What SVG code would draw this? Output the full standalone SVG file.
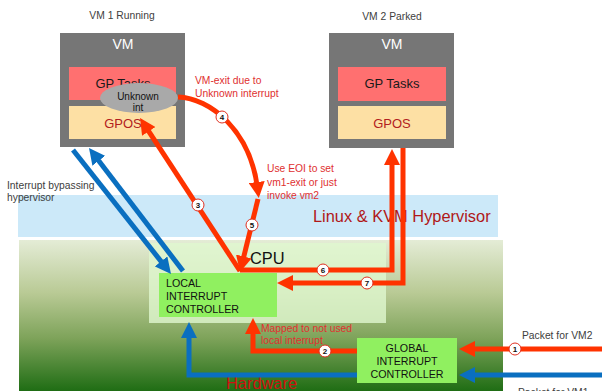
<svg xmlns="http://www.w3.org/2000/svg" width="602" height="391" viewBox="0 0 602 391">
<defs>
<linearGradient id="hw" x1="0" y1="0" x2="0" y2="1">
<stop offset="0" stop-color="#e4ecd6"/>
<stop offset="0.35" stop-color="#b9ca95"/>
<stop offset="0.65" stop-color="#7ea35a"/>
<stop offset="1" stop-color="#1f6d14"/>
</linearGradient>
<marker id="ar" viewBox="0 0 16 16" markerWidth="16" markerHeight="16" refX="6" refY="8" orient="auto" markerUnits="userSpaceOnUse"><path d="M0,0 L16,8 L0,16 z" fill="#ff3300"/></marker>
<marker id="ab" viewBox="0 0 16 16" markerWidth="16" markerHeight="16" refX="6" refY="8" orient="auto" markerUnits="userSpaceOnUse"><path d="M0,0 L16,8 L0,16 z" fill="#0a6fc0"/></marker>
</defs>
<style>
text{font-family:"Liberation Sans",Arial,sans-serif}
.lbl{font-size:10.3px;fill:#404040}
.ann{font-size:10.3px;fill:#e03030}
.vmh{font-size:14px;fill:#ffffff;text-anchor:middle}
.gpt{font-size:13px;fill:#1a1a1a;text-anchor:middle}
.gpo{font-size:13px;fill:#b22020;text-anchor:middle}
.ctl{font-size:10.7px;fill:#111}
.red{fill:none;stroke:#ff3300;stroke-width:5}
.blu{fill:none;stroke:#0a6fc0;stroke-width:5}
.num circle{fill:#fff;stroke:#e03020;stroke-width:1}
.num text{font-size:8px;font-weight:bold;fill:#111;text-anchor:middle}
.big{font-size:16.4px}
</style>
<rect width="602" height="391" fill="#fff"/>
<g id="hypervisor">
<rect x="18" y="195" width="480" height="42" fill="#cce9f9"/>
<text class="big" x="313" y="222" fill="#b01818">Linux &amp; KVM Hypervisor</text>
</g>
<g id="hardware">
<rect x="19" y="240" width="484" height="151" fill="url(#hw)"/>
<text class="big" x="226" y="389" fill="#d01010">Hardware</text>
</g>
<g id="cpu">
<rect x="149" y="243" width="237" height="80" fill="#e0f8d0" opacity="0.8"/>
<text class="big" x="250" y="264" fill="#111">CPU</text>
</g>
<g id="lic">
<rect x="159" y="273" width="118" height="44" fill="#90f060"/>
<text class="ctl" x="166" y="287">LOCAL</text>
<text class="ctl" x="166" y="300">INTERRUPT</text>
<text class="ctl" x="166" y="313">CONTROLLER</text>
</g>
<g id="gic">
<rect x="357" y="338" width="100" height="45" fill="#90f060"/>
<text class="ctl" x="407" y="352" text-anchor="middle">GLOBAL</text>
<text class="ctl" x="407" y="365" text-anchor="middle">INTERRUPT</text>
<text class="ctl" x="407" y="378" text-anchor="middle">CONTROLLER</text>
</g>
<g id="vm1">
<text class="lbl" x="122" y="19" text-anchor="middle">VM 1 Running</text>
<rect x="60" y="33" width="125" height="114" fill="#767676"/>
<text class="vmh" x="123" y="49">VM</text>
<rect x="69" y="67" width="107" height="33" fill="#ff7070"/>
<text class="gpt" x="123" y="88">GP Tasks</text>
<rect x="69" y="106" width="107" height="33" fill="#fde0a4"/>
<text class="gpo" x="123" y="128">GPOS</text>
</g>
<g id="unknown-int">
<ellipse cx="139" cy="98" rx="39" ry="15" fill="#a9a9a9"/>
<text x="138" y="100" font-size="10" text-anchor="middle" fill="#111">Unknown</text>
<text x="138" y="111" font-size="10" text-anchor="middle" fill="#111">int</text>
</g>
<g id="vm2">
<text class="lbl" x="392" y="20" text-anchor="middle">VM 2 Parked</text>
<rect x="329" y="33" width="125" height="115" fill="#767676"/>
<text class="vmh" x="392" y="49">VM</text>
<rect x="338" y="67" width="108" height="34" fill="#ff7070"/>
<text class="gpt" x="392" y="88">GP Tasks</text>
<rect x="338" y="106" width="108" height="33" fill="#fde0a4"/>
<text class="gpo" x="392" y="128">GPOS</text>
</g>
<g id="labels">
<text class="ann" x="195" y="84">VM-exit due to</text>
<text class="ann" x="195" y="97">Unknown interrupt</text>
<text class="ann" x="267" y="172">Use EOI to set</text>
<text class="ann" x="267" y="186">vm1-exit or just</text>
<text class="ann" x="267" y="199">invoke vm2</text>
<text class="lbl" x="7" y="189" fill="#333">Interrupt bypassing</text>
<text class="lbl" x="7" y="201" fill="#333">hypervisor</text>
<text class="ann" x="261" y="332">Mapped to not used</text>
<text class="ann" x="261" y="344">local interrupt</text>
<text class="lbl" x="522" y="339" font-size="9.7">Packet for VM2</text>
<text class="lbl" x="518" y="396" font-size="9.7">Packet for VM1</text>
</g>
<g id="connectors">
<path class="blu" d="M73,150 L164.8,266.1" marker-end="url(#ab)"/>
<path class="blu" d="M183,271 L95.1,156" marker-end="url(#ab)"/>
<path class="red" d="M240,271 L145.5,126.4" marker-end="url(#ar)"/>
<path class="red" d="M178,97 C210,98 250,130 257.5,188" marker-end="url(#ar)"/>
<path class="red" d="M258,199 L242.4,262.3" marker-end="url(#ar)"/>
<path class="red" d="M240,270 H392 V159" marker-end="url(#ar)"/>
<path class="red" d="M403,148 V283 H287" marker-end="url(#ar)"/>
<path class="red" d="M602,349 H469" marker-end="url(#ar)"/>
<path class="blu" d="M602,375 H469" marker-end="url(#ab)"/>
<path class="red" d="M357,351 H253 V328" marker-end="url(#ar)"/>
<path class="blu" d="M357,375 H189 V332" marker-end="url(#ab)"/>
<g class="num"><circle cx="515" cy="349" r="6"/><text x="515" y="352">1</text></g>
<g class="num"><circle cx="325" cy="351" r="6"/><text x="325" y="354">2</text></g>
<g class="num"><circle cx="198" cy="205" r="6"/><text x="198" y="208">3</text></g>
<g class="num"><circle cx="222" cy="117" r="6"/><text x="222" y="120">4</text></g>
<g class="num"><circle cx="252" cy="225" r="6"/><text x="252" y="228">5</text></g>
<g class="num"><circle cx="323" cy="270" r="6"/><text x="323" y="273">6</text></g>
<g class="num"><circle cx="367" cy="283" r="6"/><text x="367" y="286">7</text></g>
</g>
</svg>
